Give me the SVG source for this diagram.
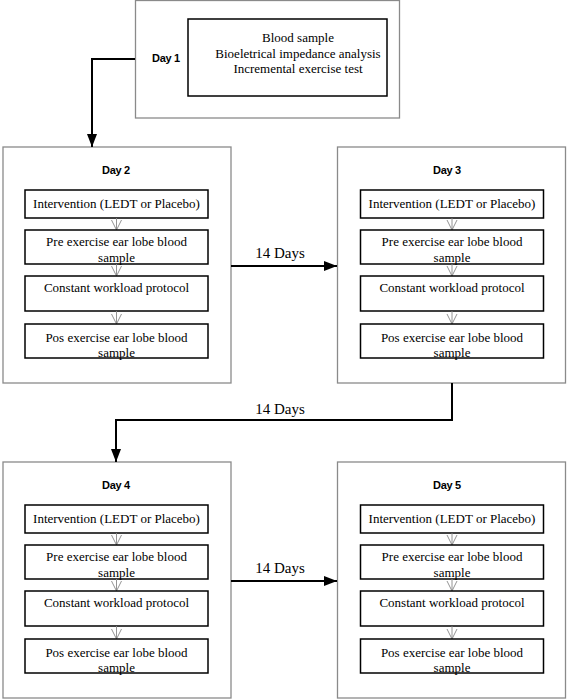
<svg xmlns="http://www.w3.org/2000/svg" width="568" height="699" viewBox="0 0 568 699">
<style>
.outer{fill:#fff;stroke:#8a8a8a;stroke-width:1.3}
.inner{fill:#fff;stroke:#000;stroke-width:1.5}
text.t{font-family:"Liberation Serif","Times New Roman",serif;font-size:13px;fill:#000;text-anchor:middle}
text.d{font-family:"Liberation Sans",Arial,sans-serif;font-size:11px;font-weight:bold;fill:#000;text-anchor:middle;letter-spacing:-0.3px}
text.lab{font-family:"Liberation Serif","Times New Roman",serif;font-size:15px;fill:#000;text-anchor:middle}
.conn{fill:none;stroke:#000;stroke-width:2}
.small{fill:none;stroke:#888;stroke-width:0.9}
</style>
<defs>
<marker id="ah" markerUnits="userSpaceOnUse" markerWidth="14" markerHeight="10" refX="13" refY="5" orient="auto">
<path d="M0,0 L13,5 L0,10 Z" fill="#000"/>
</marker>
</defs>

<g id="day1">
<rect class="outer" x="135.5" y="0.5" width="264" height="117.5"/>
<text class="d" x="166" y="62">Day 1</text>
<rect class="inner" x="188" y="19" width="199" height="77"/>
<text class="t" font-family="Liberation Serif, serif" x="298" y="42">Blood sample</text>
<text class="t" font-family="Liberation Serif, serif" x="298" y="58">Bioeletrical impedance analysis</text>
<text class="t" font-family="Liberation Serif, serif" x="298" y="73">Incremental exercise test</text>
</g>

<g id="day2">
<rect class="outer" x="3" y="147" width="228" height="236"/>
<text class="d" x="116" y="174">Day 2</text>
<g transform="translate(25,190)" font-family="Liberation Serif, serif">
<rect class="inner" x="0" y="0" width="183" height="28"/>
<text class="t" x="91.5" y="18">Intervention (LEDT or Placebo)</text>
<path class="small" d="M91.5,28 V40 M86.5,30 L91.5,40 L96.5,30"/>
<rect class="inner" x="0" y="40" width="183" height="34"/>
<text class="t" x="91.5" y="56">Pre exercise ear lobe blood</text>
<text class="t" x="91.5" y="72">sample</text>
<path class="small" d="M91.5,74 V86 M86.5,76 L91.5,86 L96.5,76"/>
<rect class="inner" x="0" y="86" width="183" height="35"/>
<text class="t" x="91.5" y="102">Constant workload protocol</text>
<path class="small" d="M91.5,121 V134 M86.5,124 L91.5,134 L96.5,124"/>
<rect class="inner" x="0" y="134" width="183" height="34"/>
<text class="t" x="91.5" y="152">Pos exercise ear lobe blood</text>
<text class="t" x="91.5" y="167">sample</text>
</g>
</g>

<g id="day3">
<rect class="outer" x="337.5" y="147" width="228" height="236"/>
<text class="d" x="447" y="174">Day 3</text>
<g transform="translate(360.5,190)" font-family="Liberation Serif, serif">
<rect class="inner" x="0" y="0" width="183" height="28"/>
<text class="t" x="91.5" y="18">Intervention (LEDT or Placebo)</text>
<path class="small" d="M91.5,28 V40 M86.5,30 L91.5,40 L96.5,30"/>
<rect class="inner" x="0" y="40" width="183" height="34"/>
<text class="t" x="91.5" y="56">Pre exercise ear lobe blood</text>
<text class="t" x="91.5" y="72">sample</text>
<path class="small" d="M91.5,74 V86 M86.5,76 L91.5,86 L96.5,76"/>
<rect class="inner" x="0" y="86" width="183" height="35"/>
<text class="t" x="91.5" y="102">Constant workload protocol</text>
<path class="small" d="M91.5,121 V134 M86.5,124 L91.5,134 L96.5,124"/>
<rect class="inner" x="0" y="134" width="183" height="34"/>
<text class="t" x="91.5" y="152">Pos exercise ear lobe blood</text>
<text class="t" x="91.5" y="167">sample</text>
</g>
</g>

<g id="day4">
<rect class="outer" x="3" y="462" width="228" height="236"/>
<text class="d" x="116" y="489">Day 4</text>
<g transform="translate(25,505)" font-family="Liberation Serif, serif">
<rect class="inner" x="0" y="0" width="183" height="28"/>
<text class="t" x="91.5" y="18">Intervention (LEDT or Placebo)</text>
<path class="small" d="M91.5,28 V40 M86.5,30 L91.5,40 L96.5,30"/>
<rect class="inner" x="0" y="40" width="183" height="34"/>
<text class="t" x="91.5" y="56">Pre exercise ear lobe blood</text>
<text class="t" x="91.5" y="72">sample</text>
<path class="small" d="M91.5,74 V86 M86.5,76 L91.5,86 L96.5,76"/>
<rect class="inner" x="0" y="86" width="183" height="35"/>
<text class="t" x="91.5" y="102">Constant workload protocol</text>
<path class="small" d="M91.5,121 V134 M86.5,124 L91.5,134 L96.5,124"/>
<rect class="inner" x="0" y="134" width="183" height="34"/>
<text class="t" x="91.5" y="152">Pos exercise ear lobe blood</text>
<text class="t" x="91.5" y="167">sample</text>
</g>
</g>

<g id="day5">
<rect class="outer" x="337.5" y="462" width="228" height="236"/>
<text class="d" x="447" y="489">Day 5</text>
<g transform="translate(360.5,505)" font-family="Liberation Serif, serif">
<rect class="inner" x="0" y="0" width="183" height="28"/>
<text class="t" x="91.5" y="18">Intervention (LEDT or Placebo)</text>
<path class="small" d="M91.5,28 V40 M86.5,30 L91.5,40 L96.5,30"/>
<rect class="inner" x="0" y="40" width="183" height="34"/>
<text class="t" x="91.5" y="56">Pre exercise ear lobe blood</text>
<text class="t" x="91.5" y="72">sample</text>
<path class="small" d="M91.5,74 V86 M86.5,76 L91.5,86 L96.5,76"/>
<rect class="inner" x="0" y="86" width="183" height="35"/>
<text class="t" x="91.5" y="102">Constant workload protocol</text>
<path class="small" d="M91.5,121 V134 M86.5,124 L91.5,134 L96.5,124"/>
<rect class="inner" x="0" y="134" width="183" height="34"/>
<text class="t" x="91.5" y="152">Pos exercise ear lobe blood</text>
<text class="t" x="91.5" y="167">sample</text>
</g>
</g>

<g id="connectors">
<path class="conn" d="M135,59 H92 V147" marker-end="url(#ah)"/>
<path class="conn" d="M231,266 H337" marker-end="url(#ah)"/>
<path class="conn" d="M452,383 V420 H116 V462" marker-end="url(#ah)"/>
<path class="conn" d="M231,581 H337" marker-end="url(#ah)"/>
<text class="lab" x="280" y="258">14 Days</text>
<text class="lab" x="280" y="414">14 Days</text>
<text class="lab" x="280" y="573">14 Days</text>
</g>
</svg>
